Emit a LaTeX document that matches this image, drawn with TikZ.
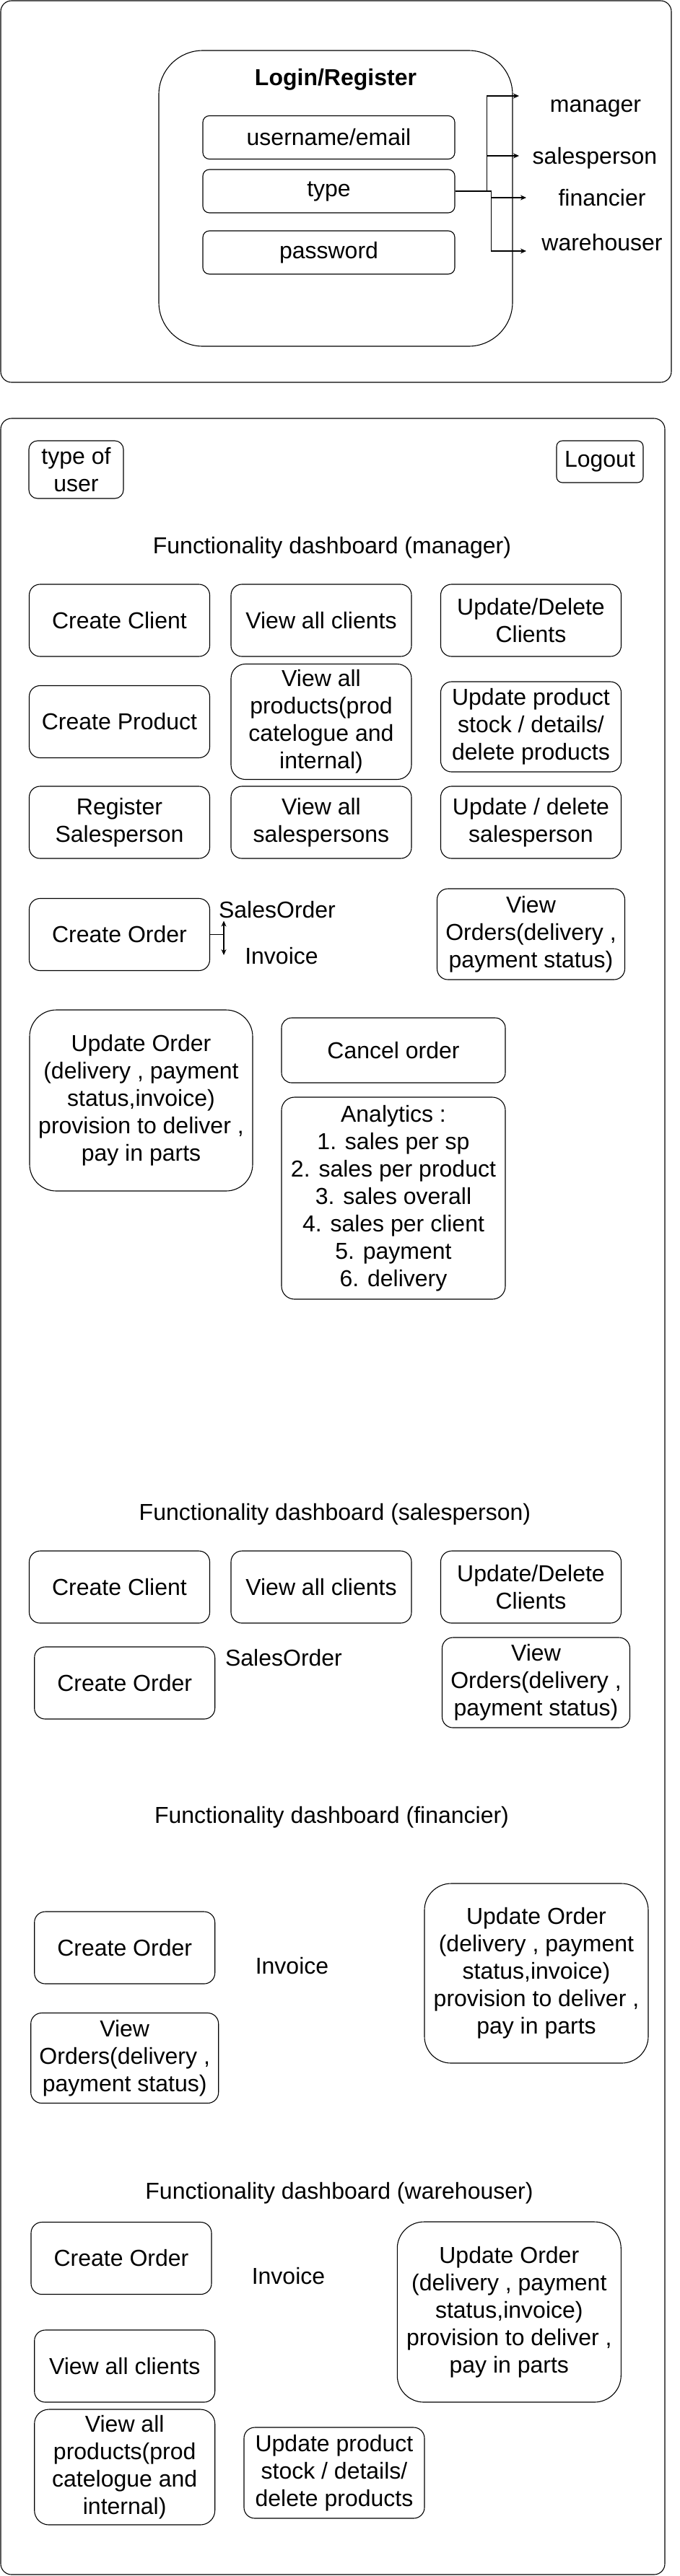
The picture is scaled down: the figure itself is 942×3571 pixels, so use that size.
\documentclass[tikz,border=0pt]{standalone}
\usepackage{fontspec}
\setmainfont{Liberation Sans}
\usetikzlibrary{arrows.meta}
\newcommand{\diafont}{\fontsize{16}{19}\selectfont}

\begin{document}
\begin{tikzpicture}[x=0.5pt, y=-0.5pt,
    screen/.style={draw, line width=0.55pt, rounded corners=7.5pt, inner sep=0pt},
    field/.style={draw, line width=0.55pt, rounded corners=4.5pt, minimum width=174.5pt, minimum height=30pt, font=\diafont},
    box/.style={draw, line width=0.55pt, rounded corners=7.5pt, align=center, minimum width=125pt, minimum height=50pt, inner sep=2pt, font=\diafont},
    bigbox/.style={box, rounded corners=18.5pt, minimum width=155pt, minimum height=125pt},
    ordersbox/.style={box, minimum width=130pt, minimum height=62.5pt},
    productsbox/.style={box, rounded corners=10pt, minimum height=80pt},
    heading/.style={anchor=base, inner sep=0pt, font=\diafont},
    note/.style={anchor=base, inner sep=0pt, font=\diafont},
    arrow/.style={-{Stealth[length=4pt, width=3.5pt]}, line width=0.55pt}
]
    \useasboundingbox (0,0) rectangle (942,3571);

    % Login page
    \node[screen, minimum width=464.5pt, minimum height=264.5pt] (loginpage) at (465.5,265.5) {};
    \node[screen, rounded corners=30.5pt, minimum width=245pt, minimum height=205pt] (login) at (465,275) {};
    \node[heading, font=\diafont\bfseries] (logintitle) at (465,118) {Login/Register};
    \node[field] (username) at (455.5,190.5) {username/email};
    \node[field] (type) at (455.5,265) {type};
    \node[field] (password) at (455.5,350) {password};

    % User types
    \node[note] (manager) at (825,155) {manager};
    \node[note] (salesperson) at (824,227) {salesperson};
    \node[note] (financier) at (834,285) {financier};
    \node[note] (warehouser) at (834,347) {warehouser};
    \coordinate (tomanager) at (719,133);
    \coordinate (tosales) at (719,216);
    \coordinate (tofinance) at (729,274);
    \coordinate (towarehouse) at (729,348);
    \draw[arrow] (type.east) -- ++(44,0) |- (tomanager);
    \draw[arrow] (type.east) -- ++(44,0) |- (tosales);
    \draw[arrow] (type.east) -- ++(50,0) |- (tofinance);
    \draw[arrow] (type.east) -- ++(50,0) |- (towarehouse);

    % Dashboard page
    \node[screen, minimum width=460pt, minimum height=1494.5pt] (dashboard) at (461,2074.5) {};
    \node[box, minimum width=65.5pt, minimum height=40pt, rounded corners=6pt] (usertype) at (105.5,651) {type of\\user};
    \node[box, minimum width=60pt, minimum height=29pt, rounded corners=4pt] (logout) at (831,640) {Logout};

    % Manager
    \node[heading] (mgrtitle) at (460,767) {Functionality dashboard (manager)};
    \node[box] (mgrclient) at (165.5,860) {Create Client};
    \node[box] (mgrviewclients) at (445,860) {View all clients};
    \node[box] (mgreditclients) at (735.5,860) {Update/Delete\\Clients};
    \node[box] (mgrproduct) at (165.5,1000.5) {Create Product};
    \node[productsbox] (mgrviewproducts) at (445,1000.5) {View all\\products(prod\\catelogue and\\internal)};
    \node[box, minimum height=62.5pt] (mgreditproducts) at (735.5,1007.5) {Update product\\stock / details/\\delete products};
    \node[box] (mgrsp) at (165.5,1140) {Register\\Salesperson};
    \node[box] (mgrviewsp) at (445,1140) {View all\\salespersons};
    \node[box] (mgreditsp) at (735.5,1140) {Update / delete\\salesperson};

    \node[box] (mgrorder) at (165.5,1295.5) {Create Order};
    \node[note] (mgrsalesorder) at (384,1272) {SalesOrder};
    \node[note] (mgrinvoice) at (390,1336) {Invoice};
    \coordinate (tomgrsalesorder) at (310,1276.5);
    \coordinate (tomgrinvoice) at (310,1324);
    \draw[arrow] (mgrorder.east) -| (tomgrsalesorder);
    \draw[arrow] (mgrorder.east) -| (tomgrinvoice);
    \node[ordersbox, minimum height=63pt] (mgrvieworders) at (735.5,1295) {View\\Orders(delivery ,\\payment status)};

    \node[bigbox, minimum width=154.5pt, minimum height=125.5pt] (mgrupdate) at (195.5,1525.5) {Update Order\\(delivery , payment\\status,invoice)\\provision to deliver ,\\pay in parts};
    \node[box, minimum width=155pt, minimum height=45pt, rounded corners=7pt] (mgrcancel) at (545,1456) {Cancel order};
    \node[box, minimum width=155pt, minimum height=140pt, rounded corners=9pt] (mgranalytics) at (545,1661) {Analytics :\\1. sales per sp\\2. sales per product\\3. sales overall\\4. sales per client\\5. payment\\6. delivery};

    % Salesperson
    \node[heading] (sptitle) at (464,2107) {Functionality dashboard (salesperson)};
    \node[box] (spclient) at (165.5,2200) {Create Client};
    \node[box] (spviewclients) at (445,2200) {View all clients};
    \node[box] (speditclients) at (735.5,2200) {Update/Delete\\Clients};
    \node[box] (sporder) at (172.7,2333) {Create Order};
    \node[note] (spsalesorder) at (393,2309) {SalesOrder};
    \node[ordersbox] (spvieworders) at (742.5,2332.5) {View\\Orders(delivery ,\\payment status)};

    % Financier
    \node[heading] (fintitle) at (459.5,2527) {Functionality dashboard (financier)};
    \node[box] (finorder) at (172.7,2700) {Create Order};
    \node[note] (fininvoice) at (404.5,2736) {Invoice};
    \node[ordersbox] (finvieworders) at (172.7,2853) {View\\Orders(delivery ,\\payment status)};
    \node[bigbox, minimum height=124.5pt] (finupdate) at (743,2735.5) {Update Order\\(delivery , payment\\status,invoice)\\provision to deliver ,\\pay in parts};

    % Warehouser
    \node[heading] (whtitle) at (470,3048) {Functionality dashboard (warehouser)};
    \node[box] (whorder) at (168,3130.5) {Create Order};
    \node[note] (whinvoice) at (399.5,3166.5) {Invoice};
    \node[box] (whviewclients) at (172.7,3280) {View all clients};
    \node[productsbox] (whviewproducts) at (172.7,3420) {View all\\products(prod\\catelogue and\\internal)};
    \node[box, minimum height=63pt] (wheditproducts) at (463,3428) {Update product\\stock / details/\\delete products};
    \node[bigbox] (whupdate) at (705.3,3205) {Update Order\\(delivery , payment\\status,invoice)\\provision to deliver ,\\pay in parts};

\end{tikzpicture}
\end{document}
